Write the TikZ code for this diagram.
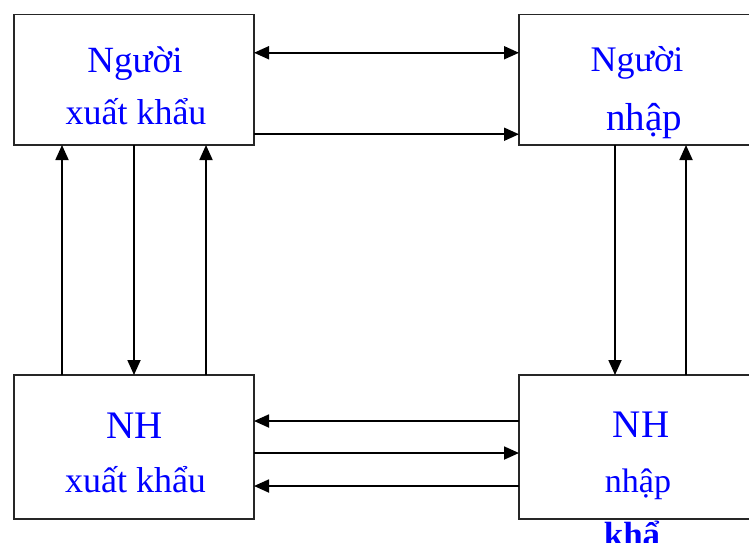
\documentclass[tikz,border=0pt]{standalone}
\usepackage{fontspec}
\setmainfont{Liberation Serif}
\usetikzlibrary{arrows.meta}
\tikzset{hd/.tip={Triangle[length=15pt,width=13pt]}}
\begin{document}
\begin{tikzpicture}[x=1pt,y=-1pt,
  box/.style={draw=black!85, line width=1.8pt, minimum width=240pt,
    minimum height=#1, inner sep=0pt, outer sep=0pt},
  lbl/.style={text=blue, anchor=base, inner sep=0pt},
  link/.style={line width=1.8pt, -hd},
  both/.style={line width=1.8pt, hd-hd}]
\clip (0,0) rectangle (749,542);
\useasboundingbox (0,0) rectangle (749,542);

% the four parties
\node[box=130.5pt] (tl) at (134,79.75) {};
\node[box=130.5pt] (tr) at (639,79.75) {};
\node[box=144pt]   (bl) at (134,447) {};
\node[box=144pt]   (br) at (639,447) {};

% labels
\node[lbl, font=\fontsize{37}{40}\selectfont] (tl1) at (135,72.5) {Người};
\node[lbl, font=\fontsize{36}{40}\selectfont] (tl2) at (136,124) {xuất khẩu};
\node[lbl, font=\fontsize{36}{40}\selectfont] (tr1) at (637,71) {Người};
\node[lbl, font=\fontsize{39}{40}\selectfont] (tr2) at (644,130) {nhập};
\node[lbl, font=\fontsize{39}{40}\selectfont] (bl1) at (135,438) {NH};
\node[lbl, font=\fontsize{36}{40}\selectfont] (bl2) at (135.5,492.5) {xuất khẩu};
\node[lbl, font=\fontsize{39}{40}\selectfont] (br1) at (641,437.5) {NH};
\node[lbl, font=\fontsize{34}{40}\selectfont] (br2) at (638,492.5) {nhập};
\node[lbl, font=\fontsize{35}{40}\selectfont\bfseries] (br3) at (632,546) {khẩ};

% top pair
\draw[both] ([yshift=27pt]tl.east) -- ([yshift=27pt]tr.west);
\draw[link] ([yshift=-54.5pt]tl.east) -- ([yshift=-54.5pt]tr.west);

% left column
\draw[link] ([xshift=-72pt]bl.north) -- ([xshift=-72pt]tl.south);
\draw[link] (tl.south) -- (bl.north);
\draw[link] ([xshift=72pt]bl.north) -- ([xshift=72pt]tl.south);

% right column
\draw[link] ([xshift=-24pt]tr.south) -- ([xshift=-24pt]br.north);
\draw[link] ([xshift=47pt]br.north) -- ([xshift=47pt]tr.south);

% bottom pair
\draw[link] ([yshift=26pt]br.west) -- ([yshift=26pt]bl.east);
\draw[link] ([yshift=-6pt]bl.east) -- ([yshift=-6pt]br.west);
\draw[link] ([yshift=-39pt]br.west) -- ([yshift=-39pt]bl.east);
\end{tikzpicture}
\end{document}
